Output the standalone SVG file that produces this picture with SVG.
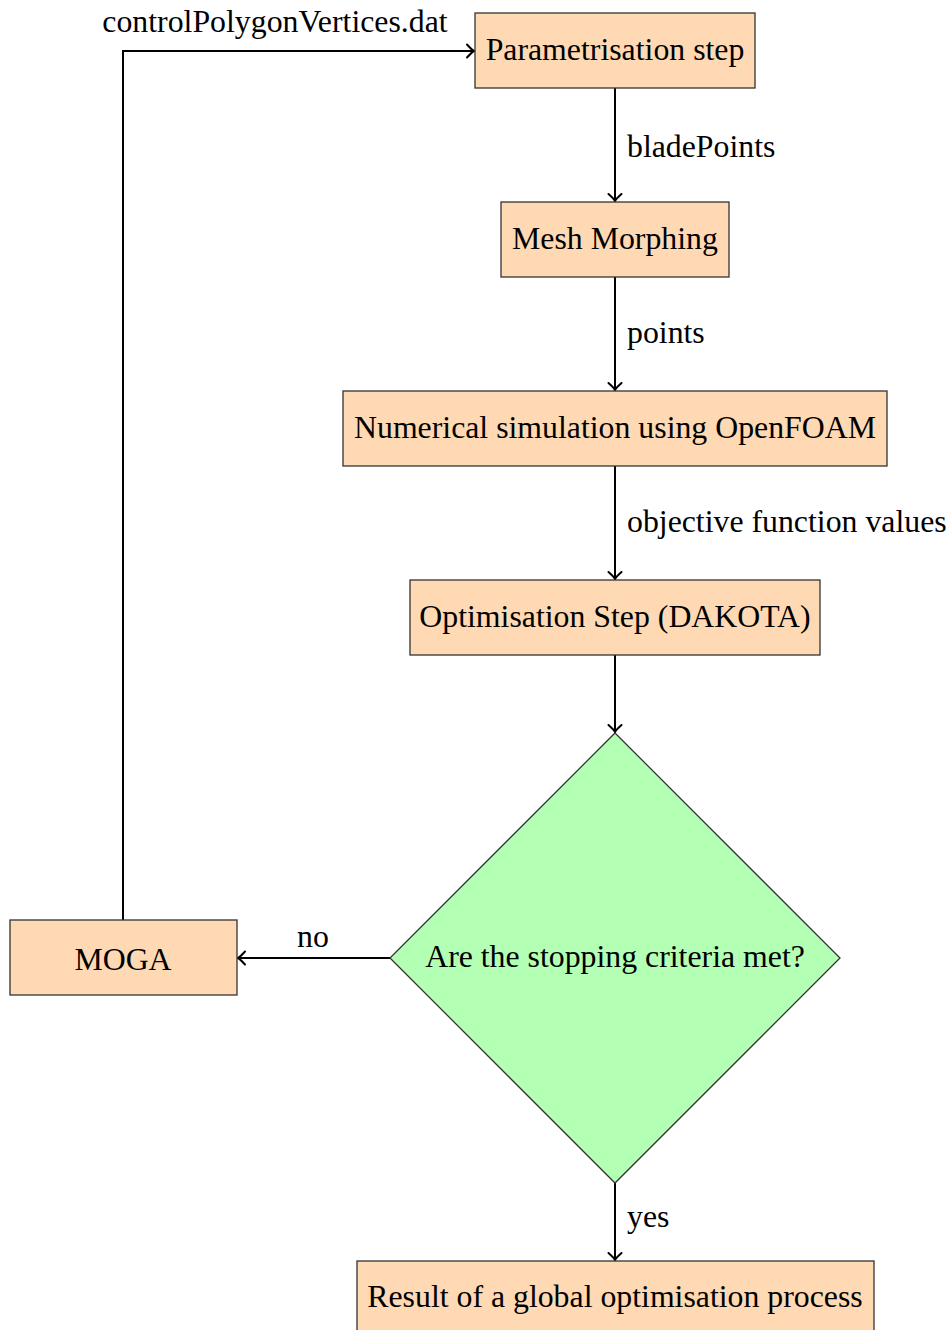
<svg xmlns="http://www.w3.org/2000/svg" width="949" height="1330" viewBox="0 0 949 1330">
<style>
.box{fill:#FFD9B3;stroke:#333;stroke-width:1.3}
.dia{fill:#B3FFB3;stroke:#333;stroke-width:1.3}
text{font-family:"Liberation Serif","Times New Roman",serif;font-size:31.8px;fill:#000}
.c{text-anchor:middle}
.edge{fill:none;stroke:#000;stroke-width:2;marker-end:url(#arr)}
</style>
<defs>
<marker id="arr" viewBox="-8 -8 10 16" markerWidth="10" markerHeight="16" refX="0" refY="0" orient="auto" markerUnits="userSpaceOnUse">
<path d="M-7,-6.5 Q-2,-1 0,0 Q-2,1 -7,6.5" fill="none" stroke="#000" stroke-width="2" stroke-linecap="round"/>
</marker>
</defs>
<g id="connectors">
<path class="edge" d="M615,88 V201"/>
<path class="edge" d="M615,277 V390"/>
<path class="edge" d="M615,466 V579"/>
<path class="edge" d="M615,655 V732"/>
<path class="edge" d="M615,1183 V1260"/>
<path class="edge" d="M390,958 H238"/>
<path class="edge" d="M123,920 V51 H474"/>
<text x="627" y="157">bladePoints</text>
<text x="627" y="343">points</text>
<text x="627" y="532">objective function values</text>
<text x="627" y="1227">yes</text>
<text x="313" y="947" class="c">no</text>
<text x="275" y="32" class="c">controlPolygonVertices.dat</text>
</g>
<g id="param"><rect class="box" x="475" y="13" width="280" height="75"/><text x="615" y="60" class="c">Parametrisation step</text></g>
<g id="mesh"><rect class="box" x="501" y="202" width="228" height="75"/><text x="615" y="249" class="c">Mesh Morphing</text></g>
<g id="sim"><rect class="box" x="343" y="391" width="544" height="75"/><text x="615" y="438" class="c">Numerical simulation using OpenFOAM</text></g>
<g id="opt"><rect class="box" x="410" y="580" width="410" height="75"/><text x="615" y="627" class="c">Optimisation Step (DAKOTA)</text></g>
<g id="decision"><polygon class="dia" points="615,733 840,958 615,1183 390,958"/><text x="615" y="967" class="c">Are the stopping criteria met?</text></g>
<g id="moga"><rect class="box" x="10" y="920" width="227" height="75"/><text x="123" y="970" class="c">MOGA</text></g>
<g id="result"><rect class="box" x="357" y="1261" width="517" height="75"/><text x="615" y="1307" class="c">Result of a global optimisation process</text></g>
</svg>
